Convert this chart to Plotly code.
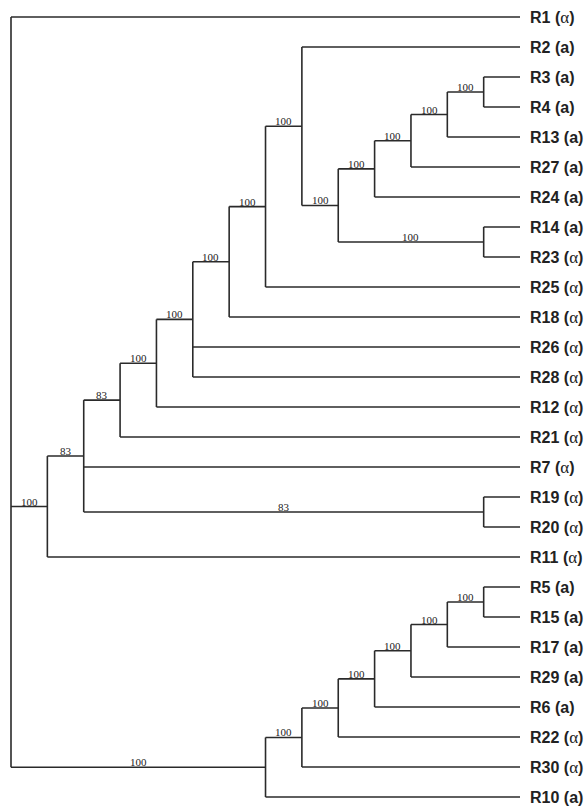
import plotly.graph_objects as go

# ---- data ----
leaves = ["R1", "R2", "R3", "R4", "R13", "R27", "R24", "R14", "R23", "R25",
          "R18", "R26", "R28", "R12", "R21", "R7", "R19", "R20", "R11",
          "R5", "R15", "R17", "R29", "R6", "R22", "R30", "R10"]
leaf_types = ["α", "a", "a", "a", "a", "a", "a", "a", "α", "α",
              "α", "α", "α", "α", "α", "α", "α", "α", "α",
              "a", "a", "a", "a", "a", "α", "α", "a"]

# internal nodes: name -> (depth, children, bootstrap support)
node_names = ["root", "A", "A1", "A2", "A3", "A4", "A5", "A6", "A7", "A8",
              "A9", "A10", "A11", "A12", "A13", "A14",
              "B", "B1", "B2", "B3", "B4", "B5", "B6"]
node_depths = [0, 1, 2, 3, 4, 5, 6, 7, 8, 9,
               10, 11, 12, 13, 13, 13,
               7, 8, 9, 10, 11, 12, 13]
node_children = [
    ["R1", "A", "B"],
    ["A1", "R11"],
    ["A2", "R7", "A14"],
    ["A3", "R21"],
    ["A4", "R12"],
    ["A5", "R26", "R28"],
    ["A6", "R18"],
    ["A7", "R25"],
    ["R2", "A8"],
    ["A9", "A13"],
    ["A10", "R24"],
    ["A11", "R27"],
    ["A12", "R13"],
    ["R3", "R4"],
    ["R14", "R23"],
    ["R19", "R20"],
    ["B1", "R10"],
    ["B2", "R30"],
    ["B3", "R22"],
    ["B4", "R6"],
    ["B5", "R29"],
    ["B6", "R17"],
    ["R5", "R15"],
]
node_support = [None, 100, 83, 83, 100, 100, 100, 100, 100, 100,
                100, 100, 100, 100, 100, 83,
                100, 100, 100, 100, 100, 100, 100]
tip_depth = 14

# ---- layout computation ----
pos = {}
for i, lf in enumerate(leaves):
    pos[lf] = (tip_depth, i)
nodes = {n: (d, c, s) for n, d, c, s in zip(node_names, node_depths, node_children, node_support)}


def place(n):
    if n in pos:
        return pos[n]
    d, ch, s = nodes[n]
    ys = [place(c)[1] for c in ch]
    pos[n] = (d, (min(ys) + max(ys)) / 2)
    return pos[n]


place("root")

xs, ys = [], []
annotations = []
for n in node_names:
    d, ch, s = nodes[n]
    x0, y0 = pos[n]
    cys = [pos[c][1] for c in ch]
    xs += [x0, x0, None]
    ys += [min(cys), max(cys), None]
    for c in ch:
        cx, cy = pos[c]
        xs += [x0, cx, None]
        ys += [cy, cy, None]
        if c in nodes and nodes[c][2] is not None:
            annotations.append(dict(
                x=(x0 + cx) / 2, y=cy, text=str(nodes[c][2]), showarrow=False,
                xanchor="center", yanchor="bottom", yshift=-3,
                font=dict(family="Liberation Serif", size=11, color="#222")))

for lf, t in zip(leaves, leaf_types):
    x, y = pos[lf]
    if t == "α":
        lab = "<b>%s (</b><span style='font-family:Liberation Serif;font-size:17px'>α</span><b>)</b>" % lf
    else:
        lab = "<b>%s (a)</b>" % lf
    annotations.append(dict(
        x=x, y=y, text=lab, showarrow=False, xanchor="left", yanchor="middle",
        xshift=8, font=dict(family="Liberation Sans", size=16, color="#222")))

fig = go.Figure()
fig.add_trace(go.Scatter(x=xs, y=ys, mode="lines",
                         line=dict(color="#2a2a2a", width=1.6),
                         hoverinfo="skip", showlegend=False))

px_per_x = 36.36
px_per_y = 30.0
fig.update_layout(
    width=586, height=806,
    margin=dict(l=0, r=0, t=0, b=0),
    paper_bgcolor="white", plot_bgcolor="white",
    xaxis=dict(range=[-11 / px_per_x, (586 - 11) / px_per_x], visible=False, fixedrange=True),
    yaxis=dict(range=[26 + 9 / px_per_y, -17 / px_per_y], visible=False, fixedrange=True),
    annotations=annotations,
    showlegend=False,
)
fig.write_html("out.html")
